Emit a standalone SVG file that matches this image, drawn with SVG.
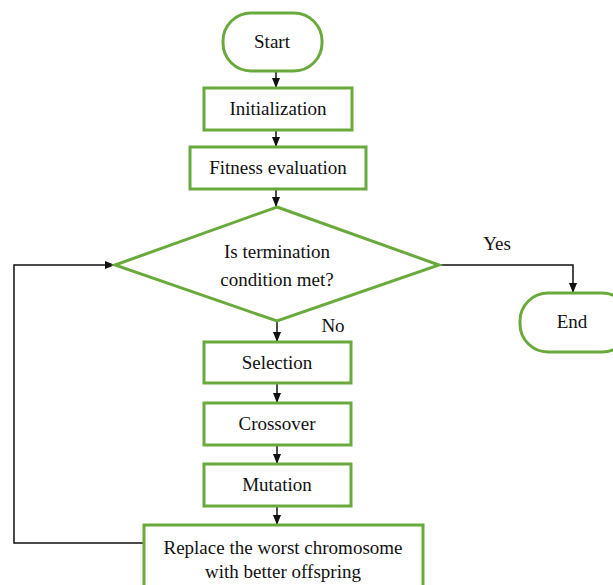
<svg xmlns="http://www.w3.org/2000/svg" width="613" height="585" viewBox="0 0 613 585">
<style>
.n{fill:#fff;stroke:#6aaa3c;stroke-width:3}
.t{font-family:"Liberation Serif","Times New Roman",serif;font-size:19px;fill:#111;text-anchor:middle}
.c{fill:none;stroke:#111;stroke-width:1.5}
</style>
<defs>
<marker id="a" markerWidth="10" markerHeight="10" refX="9" refY="5" orient="auto" markerUnits="userSpaceOnUse">
<path d="M0,1 L10,5 L0,9 Z" fill="#111"/>
</marker>
</defs>
<rect width="613" height="585" fill="#fff"/>
<g id="connectors">
<line class="c" x1="276" y1="71" x2="276" y2="87" marker-end="url(#a)"/>
<line class="c" x1="276" y1="130" x2="276" y2="146" marker-end="url(#a)"/>
<line class="c" x1="276" y1="189" x2="276" y2="206" marker-end="url(#a)"/>
<line class="c" x1="277" y1="321" x2="277" y2="341" marker-end="url(#a)"/>
<line class="c" x1="277" y1="383" x2="277" y2="402" marker-end="url(#a)"/>
<line class="c" x1="277" y1="445" x2="277" y2="463" marker-end="url(#a)"/>
<line class="c" x1="277" y1="506" x2="277" y2="524" marker-end="url(#a)"/>
<polyline class="c" points="439,265 573,265 573,292" marker-end="url(#a)"/>
<polyline class="c" points="144,543 14,543 14,265 114,265" marker-end="url(#a)"/>
<text class="t" x="497" y="250">Yes</text>
<text class="t" x="333" y="332">No</text>
</g>
<g id="start">
<rect class="n" x="223" y="13" width="99" height="58" rx="28" ry="28"/>
<text class="t" x="272" y="48">Start</text>
</g>
<g id="init">
<rect class="n" x="204" y="88" width="148" height="42"/>
<text class="t" x="278" y="115">Initialization</text>
</g>
<g id="fitness">
<rect class="n" x="190" y="147" width="176" height="42"/>
<text class="t" x="278" y="174">Fitness evaluation</text>
</g>
<g id="decision">
<polygon class="n" points="277,207 439,265 277,321 115,265"/>
<text class="t" x="277" y="258">Is termination</text>
<text class="t" x="277" y="286">condition met?</text>
</g>
<g id="end">
<rect class="n" x="520" y="293" width="110" height="59" rx="28" ry="28"/>
<text class="t" x="572" y="328">End</text>
</g>
<g id="selection">
<rect class="n" x="204" y="342" width="147" height="41"/>
<text class="t" x="277" y="369">Selection</text>
</g>
<g id="crossover">
<rect class="n" x="204" y="403" width="147" height="42"/>
<text class="t" x="277" y="430">Crossover</text>
</g>
<g id="mutation">
<rect class="n" x="204" y="464" width="147" height="42"/>
<text class="t" x="277" y="491">Mutation</text>
</g>
<g id="replace">
<rect class="n" x="144" y="525" width="279" height="65"/>
<text class="t" x="283" y="554">Replace the worst chromosome</text>
<text class="t" x="283" y="578">with better offspring</text>
</g>
</svg>
